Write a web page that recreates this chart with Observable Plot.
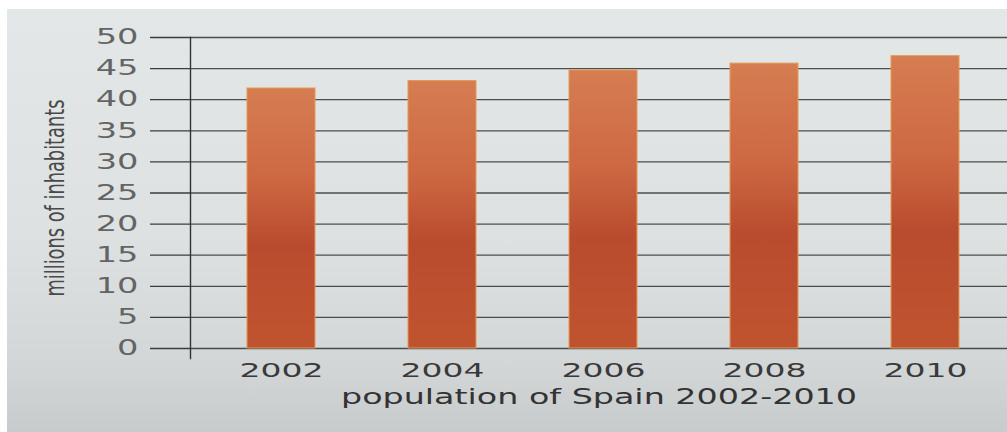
<!DOCTYPE html>
<html><head><meta charset="utf-8">
<script src="https://cdn.jsdelivr.net/npm/d3@7"></script>
<script src="https://cdn.jsdelivr.net/npm/@observablehq/plot@0.6"></script>
<style>
html,body{margin:0;padding:0;background:#ffffff;}
</style></head><body><div id="chart"></div>
<script>
const years = ["2002", "2004", "2006", "2008", "2010"];
const population = [41.8, 43.0, 44.7, 45.8, 47.0];
const yTicks = [0, 5, 10, 15, 20, 25, 30, 35, 40, 45, 50];
const yLabel = "millions of inhabitants";
const xLabel = "population of Spain 2002-2010";

const data = years.map((year, i) => ({year, population: population[i]}));

const chart = Plot.plot({
  width: 1007,
  height: 432,
  marginLeft: 190,
  marginRight: 0,
  marginTop: 37,
  marginBottom: 84,
  style: {
    fontFamily: "DejaVu Sans, sans-serif",
    background: "linear-gradient(to right, #ffffff 7px, transparent 7px), linear-gradient(to bottom, #ffffff 9px, #e4e7e7 9px, #dee1e1 55%, #d3d6d7 85%, #c8cbcc 100%)",
    overflow: "visible"
  },
  x: {type: "band", domain: years, paddingInner: 0.58, paddingOuter: 0.32, align: 0.54},
  y: {domain: [0, 50]},
  marks: [
    Plot.gridY(yTicks, {stroke: "#3c3c3c", strokeOpacity: 0.9, strokeWidth: 1.3}),
    Plot.axisY(yTicks, {tickSize: 40, tickPadding: 12, stroke: "#3c3c3c", strokeWidth: 1.3, fill: "#646464", fontSize: 21, label: null}),
    Plot.barY(data, {x: "year", y: "population", fill: "url(#barGrad)", stroke: "#e39a55", strokeWidth: 1}),
    Plot.frame({anchor: "left", insetBottom: -10, stroke: "#333333", strokeWidth: 1.4}),
    Plot.axisX({tickSize: 0, tickPadding: 14, fontSize: 20, fill: "#3a3a3a", label: null}),
    Plot.text([yLabel], {frameAnchor: "left", textAnchor: "middle", rotate: -90, dx: -135, dy: 5, text: d => d, fontSize: 27, fill: "#4a4a4a", fontFamily: "Liberation Sans Narrow, DejaVu Sans Condensed, sans-serif"}),
    Plot.text([xLabel], {frameAnchor: "bottom", dy: 55, text: d => d, fontSize: 21, fill: "#333333"})
  ]
});

const defs = d3.select(chart).insert("defs", ":first-child");
const grad = defs.append("linearGradient").attr("id", "barGrad").attr("x1", 0).attr("y1", 0).attr("x2", 0).attr("y2", 1);
[["0%", "#d67d52"], ["35%", "#cd6842"], ["60%", "#b94c2e"], ["100%", "#c0532f"]].forEach(([o, c]) => grad.append("stop").attr("offset", o).attr("stop-color", c));

document.getElementById("chart").appendChild(chart);

// widen glyphs like the geometric face of the original
function stretch(sel, factor) {
  d3.select(chart).selectAll(sel).each(function() {
    const w = this.getComputedTextLength();
    d3.select(this).attr("textLength", w * factor).attr("lengthAdjust", "spacingAndGlyphs");
  });
}
stretch('[aria-label="y-axis tick label"] text', 1.6);
stretch('[aria-label="x-axis tick label"] text', 1.65);
d3.select(chart).selectAll('[aria-label="text"] text').each(function() {
  const target = this.textContent === yLabel ? 197 : 516;
  d3.select(this).attr("textLength", target).attr("lengthAdjust", "spacingAndGlyphs");
});
</script>
</body></html>
